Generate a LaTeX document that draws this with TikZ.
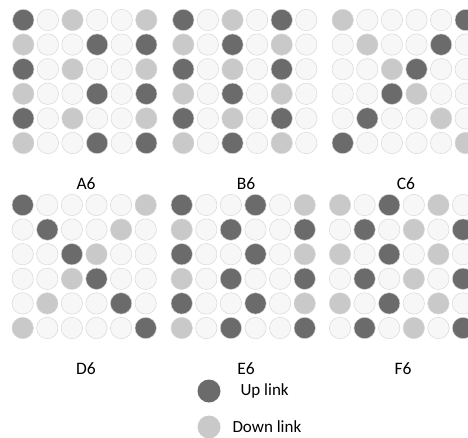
\documentclass[tikz,border=0pt]{standalone}
\usepackage{fontspec}
\setmainfont{Carlito}
\definecolor{LinkU}{HTML}{6B6B6B}
\definecolor{LinkD}{HTML}{C9C9C9}
\definecolor{LinkI}{HTML}{F7F7F7}
\definecolor{LinkRim}{HTML}{D8D8D8}
\tikzset{
  cell/.style={circle,inner sep=0pt,minimum size=21.4pt,draw=LinkRim,line width=0.5pt},
  gridname/.style={font=\fontsize{17.5}{17.5}\selectfont},
  keytext/.style={anchor=west,font=\fontsize{17}{17}\selectfont},
}
% #1 name, #2/#3 first circle, #4 rows (U up, D down, I idle)
\newcommand{\linkgrid}[4]{%
  \foreach \row [count=\r from 0] in {#4}
    \foreach \c [count=\k from 0] in \row
      \node[cell,fill=Link\c] (#1-\r-\k) at (#2+\k*24.6,#3+\r*24.6) {};
}

\begin{document}
\begin{tikzpicture}[x=1pt,y=-1pt]
\path[use as bounding box] (0,0) rectangle (468,437);
\linkgrid{A6}{23.3}{20}{{U,I,D,I,I,D},{D,I,I,U,I,U},{U,I,D,I,I,D},{D,I,I,U,I,U},{U,I,D,I,I,D},{D,I,I,U,I,U}}
\linkgrid{B6}{183.3}{20}{{U,I,D,I,U,I},{D,I,U,I,D,I},{U,I,D,I,U,I},{D,I,U,I,D,I},{U,I,D,I,U,I},{D,I,U,I,D,I}}
\linkgrid{C6}{342.7}{20}{{D,I,I,I,I,U},{I,D,I,I,U,I},{I,I,D,U,I,I},{I,I,U,D,I,I},{I,U,I,I,D,I},{U,I,I,I,I,D}}
\linkgrid{D6}{22.7}{205}{{U,I,I,I,I,D},{I,U,I,I,D,I},{I,I,U,D,I,I},{I,I,D,U,I,I},{I,D,I,I,U,I},{D,I,I,I,I,U}}
\linkgrid{E6}{181.7}{205}{{U,I,I,U,I,D},{D,I,U,I,I,U},{U,I,I,U,I,D},{D,I,U,I,I,U},{U,I,I,U,I,D},{D,I,U,I,I,U}}
\linkgrid{F6}{340}{205}{{D,I,U,I,D,I},{I,U,I,D,I,U},{D,I,U,I,D,I},{I,U,I,D,I,U},{D,I,U,I,D,I},{I,U,I,D,I,U}}
% grid names
\node[gridname] (A6-name) at (86,184) {A6};
\node[gridname] (B6-name) at (246,184) {B6};
\node[gridname] (C6-name) at (406,184) {C6};
\node[gridname] (D6-name) at (86,369) {D6};
\node[gridname] (E6-name) at (246,369) {E6};
\node[gridname] (F6-name) at (403,369) {F6};
% legend
\node[cell,minimum size=23pt,draw=none,fill=LinkU] (key-up) at (209,391) {};
\node[keytext] (key-up-text) at (237,391) {Up link};
\node[cell,minimum size=23pt,draw=none,fill=LinkD] (key-down) at (209,427) {};
\node[keytext] (key-down-text) at (229,427) {Down link};
\end{tikzpicture}
\end{document}
